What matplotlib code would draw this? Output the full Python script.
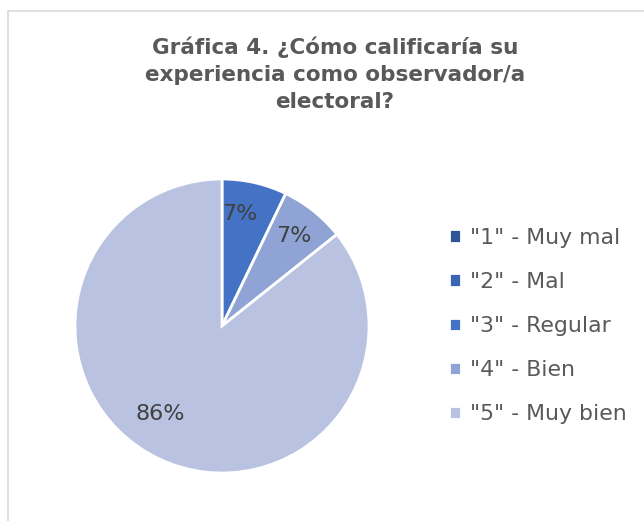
import matplotlib.pyplot as plt
from matplotlib.patches import Rectangle

labels = ['"1" - Muy mal', '"2" - Mal', '"3" - Regular', '"4" - Bien', '"5" - Muy bien']
counts = [0, 0, 1, 1, 12]
colors = ['#2F5597', '#3A64B4', '#4472C4', '#8FA4D4', '#B9C3E1']
title = 'Gráfica 4. ¿Cómo calificaría su\nexperiencia como observador/a\nelectoral?'

W, H = 644, 521
fig = plt.figure(figsize=(W / 100, H / 100), dpi=100)

# chart frame
fig.patches.append(Rectangle((8 / W, -0.05), 1.1, 1 - 11 / H + 0.05, transform=fig.transFigure,
                             fill=False, edgecolor='#D9D9D9', linewidth=1.2))

fig.text(335 / W, 1 - 37 / H, title, ha='center', va='top', fontsize=15.5,
         fontweight='bold', color='#595959', linespacing=1.42)

cx, cy, r = 222, 326, 147
ax = fig.add_axes([(cx - 150) / W, 1 - (cy + 150) / H, 300 / W, 300 / H])


def pct(p):
    return '' if p < 0.5 else f'{p:.0f}%'


wedges, texts, autotexts = ax.pie(counts, colors=colors, startangle=90, counterclock=False,
                                  autopct=pct, pctdistance=0.78, radius=1,
                                  wedgeprops=dict(edgecolor='white', linewidth=2))
for t in autotexts:
    t.set_fontsize(16)
    t.set_color('#404040')
autotexts[2].set_x(autotexts[2].get_position()[0] - 0.05)
autotexts[4].set_position((-0.42, -0.6))
ax.set_xlim(-150 / r, 150 / r)
ax.set_ylim(-150 / r, 150 / r)

fig.legend(wedges, labels, loc='center left', bbox_to_anchor=(429 / W, 1 - 326 / H),
           frameon=False, fontsize=15.8, labelcolor='#595959', handlelength=0.55,
           handleheight=0.55, handletextpad=0.4, labelspacing=1.1)

fig.savefig('out.png', dpi=100)
